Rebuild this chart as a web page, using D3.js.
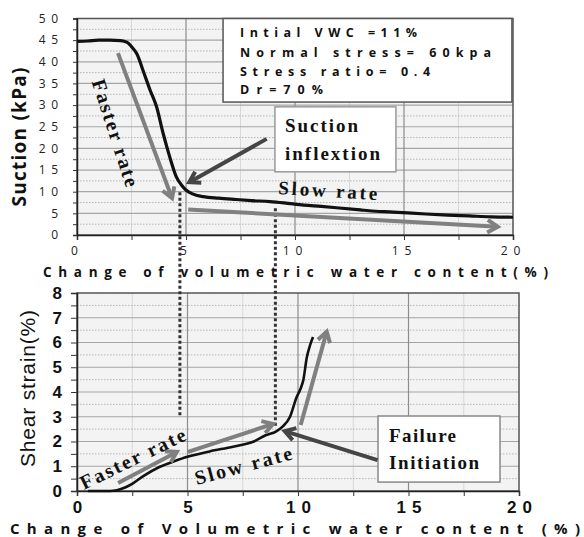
<!DOCTYPE html>
<html>
<head>
<meta charset="utf-8">
<script src="https://cdn.jsdelivr.net/npm/d3@7"></script>
<style>
	body { margin: 0; background: #fff; }
	svg { display: block; }
</style>
</head>
<body>
<div id="chart"></div>
<script>
// suction curve, upper panel
var suctionX = [0, 0.5, 1.0, 1.5, 2.0, 2.3, 2.5, 2.75, 3.05, 3.35, 3.65, 3.95, 4.25, 4.55, 4.8, 5.0, 5.3, 5.8, 6.5, 7.3, 8.0, 8.85, 9.5, 10.4, 11.2, 11.9, 13.0, 13.4, 14.5, 16.0, 17.0, 18.0, 19.0, 20.0];
var suctionY = [44.7, 44.8, 45.0, 45.0, 44.9, 44.5, 43.5, 41.8, 37.7, 33.5, 29.6, 23.5, 18.1, 13.5, 11.5, 10.4, 9.5, 8.85, 8.5, 8.2, 7.95, 7.7, 7.4, 6.9, 6.6, 6.3, 5.8, 5.6, 5.3, 4.85, 4.6, 4.4, 4.2, 4.1];

// shear strain curve, lower panel
var strainX = [0.5, 1.0, 1.5, 1.8, 2.2, 2.55, 3.0, 3.75, 4.4, 5.0, 6.0, 7.06, 8.0, 8.56, 9.0, 9.3, 9.64, 9.94, 10.1, 10.24, 10.4, 10.55, 10.68];
var strainY = [0, 0, 0, 0.03, 0.15, 0.32, 0.6, 0.98, 1.2, 1.38, 1.6, 1.79, 2.0, 2.26, 2.4, 2.6, 3.0, 3.8, 4.1, 4.48, 5.4, 5.9, 6.22];

var xTicks = [0, 5, 10, 15, 20];
var xMinorTicks = [0, 2.5, 5, 7.5, 10, 12.5, 15, 17.5, 20];
var suctionTicks = [0, 5, 10, 15, 20, 25, 30, 35, 40, 45, 50];
var strainTicks = [0, 1, 2, 3, 4, 5, 6, 7, 8];

var legendLines = ["Intial VWC =11%", "Normal stress= 60kpa", "Stress ratio= 0.4", "Dr=70%"];

(function() {
	var w = 584, h = 537,
		svg = d3.select("#chart").append("svg")
			.attr("width", w)
			.attr("height", h),
		plotBg = "#f3f3f3",
		curveColor = "#111",
		grayArrow = "#808080",
		darkArrow = "#454545",
		serif = "'Liberation Serif', 'DejaVu Serif', serif",
		sans = "'Open Sans', 'DejaVu Sans', sans-serif",
		arial = "'Liberation Sans', Arial, sans-serif"

	var upper = {left: 77, right: 513, top: 18.5, bottom: 235},
		lower = {left: 77, right: 519, top: 293, bottom: 491}

	var xTop = d3.scaleLinear().domain([0, 20]).range([upper.left, upper.right]),
		yTop = d3.scaleLinear().domain([0, 50]).range([upper.bottom, upper.top]),
		xBot = d3.scaleLinear().domain([0, 20]).range([lower.left, lower.right]),
		yBot = d3.scaleLinear().domain([0, 8]).range([lower.bottom, lower.top])

	// background, grid and frame of one panel
	var drawGrid = (m, x, y, yMajor, yStep) => {
		var g = svg.append("g")
		g.append("rect")
			.attr("x", m.left).attr("y", m.top)
			.attr("width", m.right - m.left).attr("height", m.bottom - m.top)
			.attr("fill", plotBg)

		var yMinor = yMajor.slice(0, -1).map(d => d + yStep / 2)

		g.selectAll(".vminor").data(xMinorTicks.filter(d => d % 5))
			.enter().append("line")
			.attr("x1", d => x(d)).attr("x2", d => x(d))
			.attr("y1", m.top).attr("y2", m.bottom)
			.attr("stroke", "#d8d8d8").attr("stroke-width", 1)

		g.selectAll(".hminor").data(yMinor)
			.enter().append("line")
			.attr("x1", m.left).attr("x2", m.right)
			.attr("y1", d => y(d)).attr("y2", d => y(d))
			.attr("stroke", "#b4b4b4").attr("stroke-width", 1)
			.attr("stroke-dasharray", "1.5,1.5")

		g.selectAll(".hmajor").data(yMajor.slice(1, -1))
			.enter().append("line")
			.attr("x1", m.left).attr("x2", m.right)
			.attr("y1", d => y(d)).attr("y2", d => y(d))
			.attr("stroke", "#a6a6a6").attr("stroke-width", 1.2)

		g.selectAll(".vmajor").data(xTicks.slice(1, -1))
			.enter().append("line")
			.attr("x1", d => x(d)).attr("x2", d => x(d))
			.attr("y1", m.top).attr("y2", m.bottom)
			.attr("stroke", "#8c8c8c").attr("stroke-width", 1.2)

		g.append("rect")
			.attr("x", m.left).attr("y", m.top)
			.attr("width", m.right - m.left).attr("height", m.bottom - m.top)
			.attr("fill", "none")
			.attr("stroke", "#555").attr("stroke-width", 1.5)
	}

	drawGrid(upper, xTop, yTop, suctionTicks, 5)
	drawGrid(lower, xBot, yBot, strainTicks, 1)

	// upper axes
	var topXAxis = d3.axisBottom(xTop)
		.tickValues(xMinorTicks)
		.tickSize(5).tickPadding(6)
		.tickFormat(d => d % 5 ? "" : d)
	var gx1 = svg.append("g")
		.attr("transform", "translate(0," + upper.bottom + ")")
		.call(topXAxis)
	gx1.selectAll("text")
		.attr("font-family", sans).attr("font-size", 12)
		.attr("fill", "#222").attr("letter-spacing", "6px")

	var topYAxis = d3.axisLeft(yTop)
		.tickValues(d3.range(0, 50.1, 2.5))
		.tickSize(4).tickPadding(9.5)
		.tickFormat(d => d % 5 ? "" : d)
	var gy1 = svg.append("g")
		.attr("transform", "translate(" + upper.left + ",0)")
		.call(topYAxis)
	gy1.selectAll("text")
		.attr("font-family", sans).attr("font-size", 12)
		.attr("fill", "#222").attr("letter-spacing", "5.5px")

	// lower axes
	var botXAxis = d3.axisBottom(xBot)
		.tickValues(xMinorTicks)
		.tickSize(5).tickPadding(5)
		.tickFormat(d => d % 5 ? "" : d)
	var gx2 = svg.append("g")
		.attr("transform", "translate(0," + lower.bottom + ")")
		.call(botXAxis)
	gx2.selectAll("text")
		.attr("font-family", arial).attr("font-size", 17).attr("font-weight", "bold")
		.attr("fill", "#111").attr("letter-spacing", "6px").attr("dx", 3)

	var botYAxis = d3.axisLeft(yBot)
		.tickValues(d3.range(0, 8.01, 0.5))
		.tickSize(6).tickPadding(9)
		.tickFormat(d => d % 1 ? "" : d)
	var gy2 = svg.append("g")
		.attr("transform", "translate(" + lower.left + ",0)")
		.call(botYAxis)
	gy2.selectAll("text")
		.attr("font-family", arial).attr("font-size", 17).attr("font-weight", "bold")
		.attr("fill", "#111")

	svg.selectAll(".domain").attr("stroke", "#222").attr("stroke-width", 1.5)
	svg.selectAll(".tick line").attr("stroke", "#333")

	// curves
	var topLine = d3.line()
		.x(d => xTop(d[0])).y(d => yTop(d[1]))
		.curve(d3.curveMonotoneX)
	svg.append("path")
		.datum(suctionX.map((d, i) => [d, suctionY[i]]))
		.attr("d", topLine)
		.attr("fill", "none").attr("stroke", curveColor).attr("stroke-width", 3.2)

	var botLine = d3.line()
		.x(d => xBot(d[0])).y(d => yBot(d[1]))
		.curve(d3.curveMonotoneX)
	svg.append("path")
		.datum(strainX.map((d, i) => [d, strainY[i]]))
		.attr("d", botLine)
		.attr("fill", "none").attr("stroke", curveColor).attr("stroke-width", 2.6)

	// dotted guides through both panels
	var guides = [{x: 4.72, top: 9.9, bottom: 3.06}, {x: 9.1, top: 6.2, bottom: 2.58}]
	svg.selectAll(".guide").data(guides)
		.enter().append("line")
		.attr("x1", d => xTop(d.x)).attr("x2", d => xTop(d.x))
		.attr("y1", d => yTop(d.top)).attr("y2", d => yBot(d.bottom))
		.attr("stroke", "#333").attr("stroke-width", 3)
		.attr("stroke-dasharray", "3,2.5")

	// arrows with open heads
	var arrow = (x, y, from, to, color) => {
		var x1 = x(from[0]), y1 = y(from[1]), x2 = x(to[0]), y2 = y(to[1]),
			a = Math.atan2(y2 - y1, x2 - x1), len = 12, spread = 0.55
		svg.append("line")
			.attr("x1", x1).attr("y1", y1).attr("x2", x2).attr("y2", y2)
			.attr("stroke", color).attr("stroke-width", 4)
		svg.append("path")
			.attr("d", "M" + (x2 - len * Math.cos(a - spread)) + "," + (y2 - len * Math.sin(a - spread)) +
				"L" + x2 + "," + y2 +
				"L" + (x2 - len * Math.cos(a + spread)) + "," + (y2 - len * Math.sin(a + spread)))
			.attr("fill", "none").attr("stroke", color).attr("stroke-width", 4)
			.attr("stroke-linejoin", "miter")
	}

	// text helper, fitted to the width seen in the picture
	var label = (px, py, txt, opts) => {
		var t = svg.append("text")
			.attr("x", 0).attr("y", 0)
			.attr("transform", "translate(" + px + "," + py + ")" + (opts.rotate ? " rotate(" + opts.rotate + ")" : ""))
			.attr("font-family", opts.font)
			.attr("font-size", opts.size)
			.attr("font-weight", opts.weight || "bold")
			.attr("fill", opts.color || "#111")
			.attr("text-anchor", opts.anchor || "start")
			.text(txt)
		if (opts.len) t.attr("textLength", opts.len).attr("lengthAdjust", "spacing")
		return t
	}

	var box = (x, y, x0, y0, x1, y1, stroke) => {
		svg.append("rect")
			.attr("x", x(x0)).attr("y", y(y0))
			.attr("width", x(x1) - x(x0)).attr("height", y(y1) - y(y0))
			.attr("fill", "#fff").attr("stroke", stroke).attr("stroke-width", 1.5)
	}

	// upper panel notes
	arrow(xTop, yTop, [1.88, 42.0], [4.36, 8.5], grayArrow)
	arrow(xTop, yTop, [5.1, 5.9], [19.3, 1.9], grayArrow)
	label(xTop(0.67), yTop(35.4), "Faster rate", {font: serif, size: 20, rotate: 72, len: 112})
	label(xTop(9.22), yTop(9.47), "Slow rate", {font: serif, size: 19, rotate: 3.5, len: 99})

	box(xTop, yTop, 6.7, 50, 19.95, 30.7, "#555")
	var legendBase = [45.7, 41.1, 36.7, 32.6], legendLen = [177, 251, 190, 83]
	legendLines.forEach((s, i) => {
		label(xTop(7.48), yTop(legendBase[i]), s, {font: sans, size: 12.5, len: legendLen[i]})
	})

	box(xTop, yTop, 9.08, 29.6, 14.63, 14.6, "#999")
	label(xTop(9.54), yTop(23.8), "Suction", {font: serif, size: 19, len: 73})
	label(xTop(9.54), yTop(17.3), "inflextion", {font: serif, size: 19, len: 95})
	arrow(xTop, yTop, [8.7, 22.2], [5.15, 12.2], darkArrow)

	// lower panel notes
	arrow(xBot, yBot, [1.86, 0.32], [4.52, 1.58], grayArrow)
	arrow(xBot, yBot, [5.02, 1.58], [8.87, 2.71], grayArrow)
	arrow(xBot, yBot, [10.12, 2.67], [11.3, 6.44], grayArrow)
	label(xBot(0.32), yBot(0.04), "Faster rate", {font: serif, size: 20, rotate: -26, len: 115})
	label(xBot(5.42), yBot(0.24), "Slow rate", {font: serif, size: 20, rotate: -15, len: 100})

	box(xBot, yBot, 13.62, 3.03, 19.14, 0.36, "#888")
	label(xBot(14.12), yBot(1.98), "Failure", {font: serif, size: 19, len: 67})
	label(xBot(14.12), yBot(0.89), "Initiation", {font: serif, size: 19, len: 90})
	arrow(xBot, yBot, [13.6, 1.25], [9.4, 2.42], darkArrow)

	// axis titles
	label(26, 137, "Suction (kPa)", {font: sans, size: 19, rotate: -90, anchor: "middle", len: 139})
	label(35, 388.5, "Shear strain(%)", {font: arial, size: 21, weight: "normal", rotate: -90, anchor: "middle", len: 157})
	label(43, 276.5, "Change of volumetric water content(%)", {font: sans, size: 13.5, len: 505})
	label(10, 533.5, "Change of Volumetric water content (%)", {font: sans, size: 15, len: 570})
})()
</script>
</body>
</html>
